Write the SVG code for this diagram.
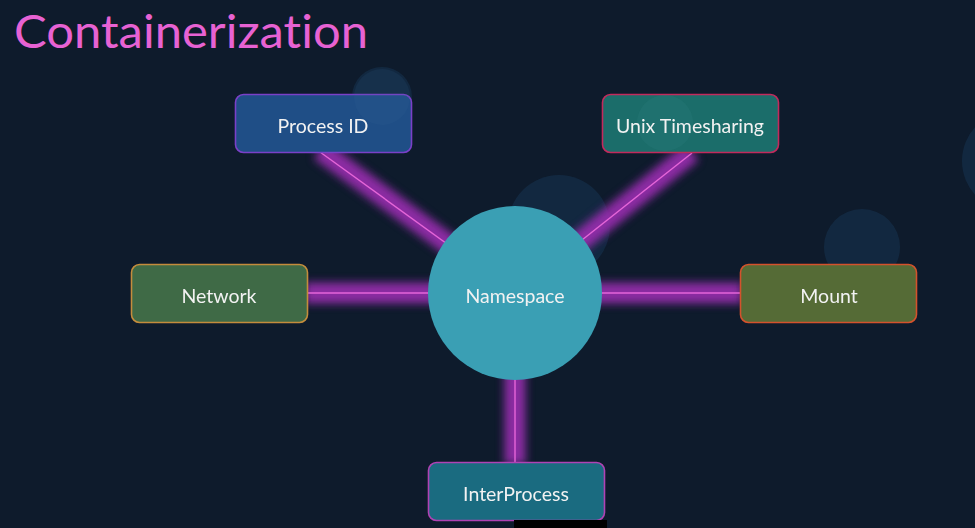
<svg xmlns="http://www.w3.org/2000/svg" width="975" height="528" viewBox="0 0 975 528">
  <defs>
    <filter id="glow" x="-20%" y="-20%" width="140%" height="140%">
      <feGaussianBlur stdDeviation="4"/>
    </filter>
    <style>
      .bubble { fill: #1f4a70; opacity: 0.3; }
      .box { stroke-width: 1.6; }
      .label { font-family: Lato, "Open Sans", "Liberation Sans", sans-serif; font-size: 19.5px; fill: #f2f2f2; text-anchor: middle; dominant-baseline: central; }
      .band { stroke: #9a2cb0; stroke-width: 21; fill: none; opacity: 0.9; }
      .core { stroke: #e566d8; stroke-width: 1.4; fill: none; }
      .title { font-variant-ligatures: none; font-feature-settings: "liga" 0, "dlig" 0; }
    </style>
  </defs>

  <!-- backdrop -->
  <rect width="975" height="528" fill="#0e1b2c"/>
  <circle class="bubble" cx="382" cy="97" r="30"/>
  <circle class="bubble" cx="559" cy="226" r="51"/>
  <circle class="bubble" cx="862" cy="247" r="38"/>
  <circle class="bubble" cx="1012" cy="161" r="50"/>

  <!-- title -->
  <text class="title" x="14" y="48" font-family="Lato, 'Open Sans', 'Liberation Sans', sans-serif" font-size="46" fill="#e762d3" textLength="354" lengthAdjust="spacingAndGlyphs">Containerization</text>

  <!-- connectors -->
  <g id="connectors">
    <g filter="url(#glow)">
      <line class="band" x1="320" y1="150" x2="515" y2="293"/>
      <line class="band" x1="692" y1="152" x2="515" y2="293"/>
      <line class="band" x1="305" y1="293" x2="515" y2="293"/>
      <line class="band" x1="515" y1="293" x2="742" y2="293"/>
      <line class="band" x1="515" y1="293" x2="515" y2="464"/>
    </g>
    <line class="core" x1="320" y1="152" x2="515" y2="293"/>
    <line class="core" x1="692" y1="153" x2="515" y2="293"/>
    <line class="core" x1="307" y1="293" x2="515" y2="293"/>
    <line class="core" x1="515" y1="293" x2="740" y2="293"/>
    <line class="core" x1="515" y1="293" x2="515" y2="462"/>
  </g>

  <g id="namespace">
    <circle cx="515" cy="293" r="87" fill="#3a9fb4"/>
    <text class="label" x="515" y="295" font-size="20.5">Namespace</text>
  </g>

  <g id="process-id">
    <rect class="box" x="235.5" y="94.5" width="176" height="58" rx="8" fill="#1f4e86" stroke="#7a40c8"/>
    <circle cx="382" cy="97" r="28" fill="#3a6a9a" opacity="0.12"/>
    <text class="label" x="323" y="125">Process ID</text>
  </g>

  <g id="unix-timesharing">
    <rect class="box" x="602.5" y="94.5" width="176" height="58" rx="8" fill="#1b6d6a" stroke="#c22a5c"/>
    <circle cx="665" cy="123" r="28" fill="#3a8a8a" opacity="0.15"/>
    <text class="label" x="690" y="125">Unix Timesharing</text>
  </g>

  <g id="network">
    <rect class="box" x="131.5" y="264.5" width="176" height="58" rx="8" fill="#3f6a46" stroke="#c48c3c"/>
    <text class="label" x="219" y="295">Network</text>
  </g>

  <g id="mount">
    <rect class="box" x="740.5" y="264.5" width="176" height="58" rx="8" fill="#556b36" stroke="#d4522c"/>
    <text class="label" x="829" y="295">Mount</text>
  </g>

  <g id="interprocess">
    <rect class="box" x="428.5" y="462.5" width="176" height="58" rx="8" fill="#1a6b80" stroke="#b042b4"/>
    <text class="label" x="516" y="493">InterProcess</text>
  </g>

  <!-- dark strip along the lower edge -->
  <rect x="514" y="520" width="93" height="8" fill="#000000"/>
</svg>
